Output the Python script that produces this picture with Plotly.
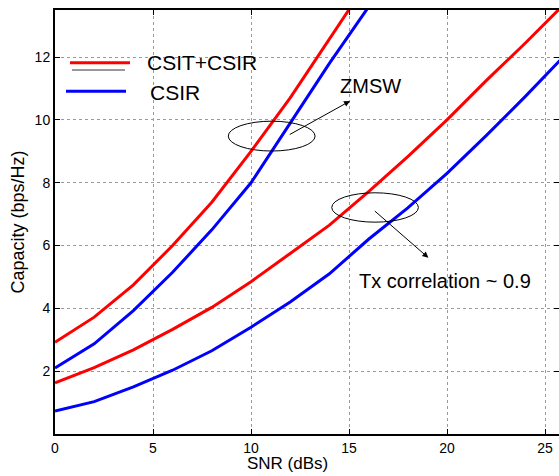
import plotly.graph_objects as go

# ---- data ----
snr = [0, 2, 4, 6, 8, 10, 12, 14, 16, 18, 20, 22, 24, 26]
zmsw_csit_csir = [2.92, 3.72, 4.75, 6.0, 7.38, 9.0, 10.7, 12.55, 14.45]
zmsw_csir = [2.1, 2.87, 3.93, 5.15, 6.5, 8.0, 9.9, 11.8, 13.6]
tx_csit_csir = [1.63, 2.11, 2.68, 3.33, 4.03, 4.85, 5.75, 6.65, 7.72, 8.83, 10.0, 11.25, 12.45, 13.7]
tx_csir = [0.73, 1.03, 1.5, 2.03, 2.65, 3.4, 4.2, 5.1, 6.2, 7.2, 8.3, 9.5, 10.75, 12.05]

x_ticks = [0, 5, 10, 15, 20, 25]
y_ticks = [2, 4, 6, 8, 10, 12]

legend_names = ["CSIT+CSIR", "CSIR"]
series_colors = ["#ff0000", "#0000ff"]

# annotation geometry (data units)
ellipse_zmsw = dict(x0=8.84, x1=13.27, y0=9.01, y1=9.96)
ellipse_tx = dict(x0=14.12, x1=18.54, y0=6.745, y1=7.68)
arrow_zmsw = dict(tail=(11.9, 9.51), head=(15.05, 10.6))
arrow_tx = dict(tail=(16.24, 7.14), head=(19.05, 5.61))
label_zmsw = ("ZMSW", 16.12, 11.09)
label_tx = ("Tx correlation ~ 0.9", 19.92, 4.87)

FONT = "Liberation Sans, Arial, Helvetica, sans-serif"

fig = go.Figure()
fig.add_trace(go.Scatter(x=snr[:len(zmsw_csit_csir)], y=zmsw_csit_csir, mode="lines",
                         line=dict(color=series_colors[0], width=3), showlegend=False))
fig.add_trace(go.Scatter(x=snr[:len(zmsw_csir)], y=zmsw_csir, mode="lines",
                         line=dict(color=series_colors[1], width=3), showlegend=False))
fig.add_trace(go.Scatter(x=snr, y=tx_csit_csir, mode="lines",
                         line=dict(color=series_colors[0], width=3), showlegend=False))
fig.add_trace(go.Scatter(x=snr, y=tx_csir, mode="lines",
                         line=dict(color=series_colors[1], width=3), showlegend=False))
# dummy trace so the right-side tick axis renders
fig.add_trace(go.Scatter(x=[None], y=[None], yaxis="y2", showlegend=False, hoverinfo="skip"))

W, H = 559, 476
ML, MR, MT, MB = 55, 0, 10, 42
PW, PH = W - ML - MR, H - MT - MB

def px_x(p):
    return (p - ML) / PW

def px_y(p):
    return (H - MB - p) / PH

shapes = []
for e in (ellipse_zmsw, ellipse_tx):
    shapes.append(dict(type="circle", xref="x", yref="y", line=dict(color="black", width=1), **e))

# legend samples
shapes.append(dict(type="line", xref="paper", yref="paper", x0=px_x(70), x1=px_x(130),
                   y0=px_y(62.7), y1=px_y(62.7), line=dict(color=series_colors[0], width=3)))
shapes.append(dict(type="line", xref="paper", yref="paper", x0=px_x(72), x1=px_x(125),
                   y0=px_y(70), y1=px_y(70), line=dict(color="#333333", width=1)))
shapes.append(dict(type="line", xref="paper", yref="paper", x0=px_x(66), x1=px_x(126),
                   y0=px_y(91.3), y1=px_y(91.3), line=dict(color=series_colors[1], width=3)))

annotations = []
for a in (arrow_zmsw, arrow_tx):
    annotations.append(dict(x=a["head"][0], y=a["head"][1], ax=a["tail"][0], ay=a["tail"][1],
                            xref="x", yref="y", axref="x", ayref="y", text="", showarrow=True,
                            arrowhead=2, arrowsize=1.2, arrowwidth=1, arrowcolor="black"))
for t, xx, yy in (label_zmsw, label_tx):
    annotations.append(dict(x=xx, y=yy, xref="x", yref="y", text=t, showarrow=False,
                            font=dict(family=FONT, size=20, color="black")))
annotations.append(dict(x=px_x(145), y=px_y(62.7), xref="paper", yref="paper", text=legend_names[0],
                        showarrow=False, xanchor="left", yanchor="middle",
                        font=dict(family=FONT, size=21, color="black")))
annotations.append(dict(x=px_x(147.7), y=px_y(92.7), xref="paper", yref="paper", text=legend_names[1],
                        showarrow=False, xanchor="left", yanchor="middle",
                        font=dict(family=FONT, size=21, color="black")))
annotations.append(dict(x=px_x(287.5), y=px_y(464), xref="paper", yref="paper", text="SNR (dBs)",
                        showarrow=False, xanchor="center", yanchor="middle",
                        font=dict(family=FONT, size=17, color="black")))
annotations.append(dict(x=px_x(18), y=px_y(222.5), xref="paper", yref="paper", text="Capacity (bps/Hz)",
                        showarrow=False, xanchor="center", yanchor="middle", textangle=-90,
                        font=dict(family=FONT, size=18, color="black")))

fig.update_layout(
    width=W, height=H,
    margin=dict(l=ML, r=MR, t=MT, b=MB, pad=0),
    paper_bgcolor="white", plot_bgcolor="white",
    font=dict(family=FONT, size=14, color="black"),
    xaxis=dict(range=[0, PW / 19.6], tickvals=x_ticks, ticks="inside", ticklen=5,
               tickcolor="black", showline=True, linecolor="black", linewidth=2, mirror="ticks",
               showgrid=True, gridcolor="#9a9a9a", griddash="dot", gridwidth=1, zeroline=False,
               tickfont=dict(size=14, color="black")),
    yaxis=dict(range=[0, 13.5], tickvals=y_ticks, ticks="inside", ticklen=5,
               tickcolor="black", showline=True, linecolor="black", linewidth=2,
               showgrid=True, gridcolor="#9a9a9a", griddash="dot", gridwidth=1, zeroline=False,
               tickfont=dict(size=14, color="black")),
    yaxis2=dict(range=[0, 13.5], tickvals=y_ticks, overlaying="y", side="right", ticks="inside",
                ticklen=5, tickcolor="black", showline=False, showgrid=False, zeroline=False,
                showticklabels=False),
    shapes=shapes, annotations=annotations, showlegend=False,
)

fig.write_html("out.html")
